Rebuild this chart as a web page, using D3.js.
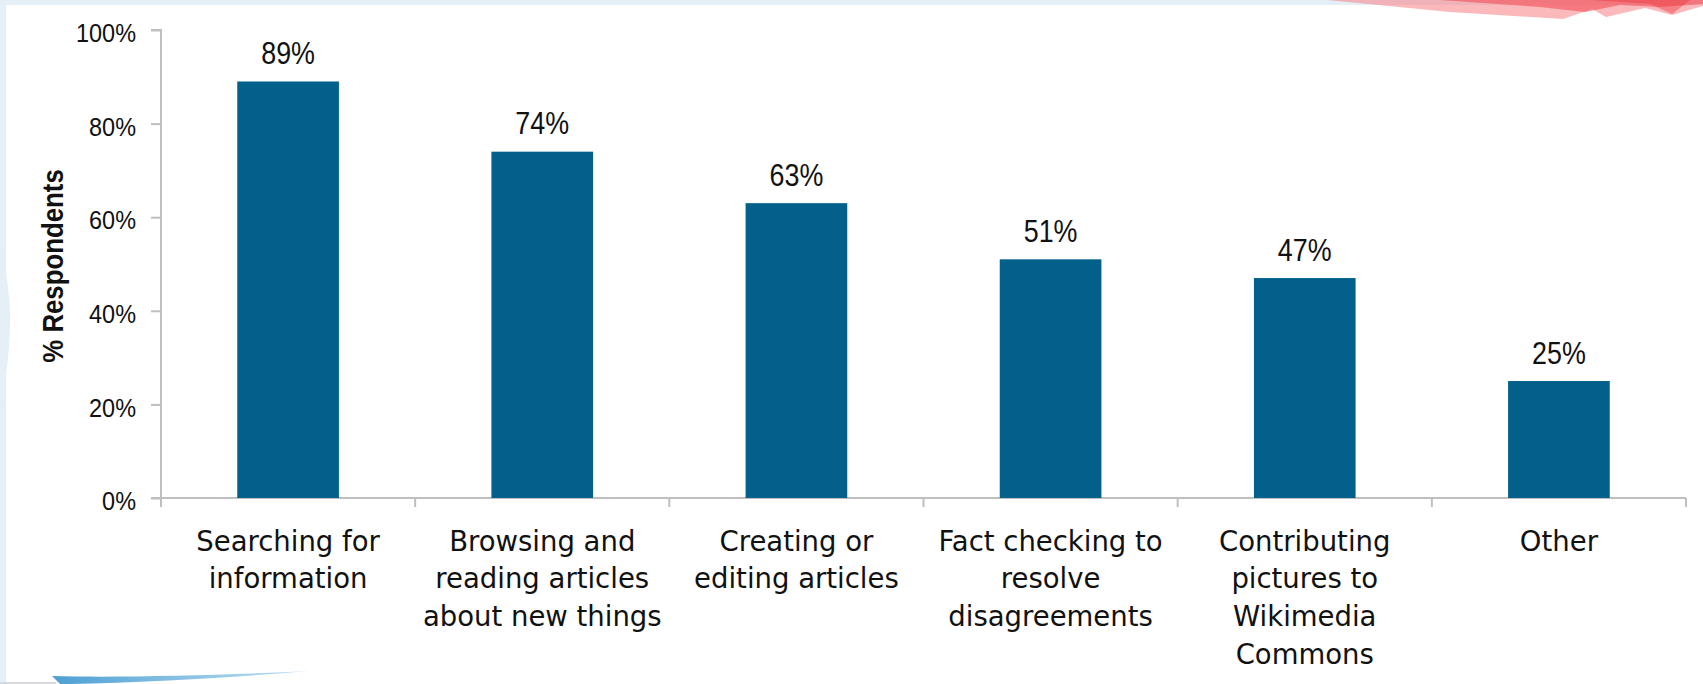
<!DOCTYPE html>
<html>
<head>
<meta charset="utf-8">
<script src="https://cdn.jsdelivr.net/npm/d3@7/dist/d3.min.js"></script>
<style>
  html, body { margin: 0; padding: 0; background: #fff; }
  svg { display: block; }
</style>
</head>
<body>
<svg id="chart" width="1703" height="684"></svg>
<script>
// Survey: what respondents use Wikipedia for
const categories = [
  "Searching for\ninformation",
  "Browsing and\nreading articles\nabout new things",
  "Creating or\nediting articles",
  "Fact checking to\nresolve\ndisagreements",
  "Contributing\npictures to\nWikimedia\nCommons",
  "Other"
];
const values = [89, 74, 63, 51, 47, 25];
const yTicks = [0, 20, 40, 60, 80, 100];
const yTitle = "% Respondents";

const W = 1703, H = 684;
const svg = d3.select("#chart");

// slide decoration: light frame, left bulge, swooshes
const deco = svg.append("g");
deco.append("rect").attr("x", 0).attr("y", 0).attr("width", W).attr("height", 5).attr("fill", "#e4eff8");
deco.append("rect").attr("x", 0).attr("y", 0).attr("width", 6).attr("height", H).attr("fill", "#e4eff8");
deco.append("path")
  .attr("d", "M0,240 C7,270 10,300 10,320 C10,345 7,375 0,410 Z")
  .attr("fill", "#e4eff8");

const defs = svg.append("defs");
const gBlue = defs.append("linearGradient").attr("id", "swooshBlue").attr("x1", "0%").attr("x2", "100%");
gBlue.append("stop").attr("offset", "0%").attr("stop-color", "#4d9fd3");
gBlue.append("stop").attr("offset", "100%").attr("stop-color", "#c3e2f3");
deco.append("path")
  .attr("d", "M52,676 C120,678 220,675 310,671 C240,677 150,682 70,684 L60,684 Z")
  .attr("fill", "url(#swooshBlue)");
deco.append("rect").attr("x", 0).attr("y", 682).attr("width", 56).attr("height", 2).attr("fill", "#d5d9dd");

const red = deco.append("g");
red.append("path")
  .attr("d", "M1327,0 L1703,0 L1703,6 L1672,15 L1645,8 L1606,17 L1592,9 L1563,19 L1450,12 Z")
  .attr("fill", "#f77f84").attr("opacity", 0.55);
red.append("path")
  .attr("d", "M1440,0 L1703,0 L1703,4 L1660,7 L1620,5 L1585,12 L1540,7 Z")
  .attr("fill", "#f24f55").attr("opacity", 0.6);
red.append("path")
  .attr("d", "M1590,0 L1690,0 L1672,14 L1650,4 Z")
  .attr("fill", "#ee3a41").attr("opacity", 0.45);

// plot area
const x0 = 161, x1 = 1686, y0 = 498, y1 = 30;
const x = d3.scaleBand().domain(categories).range([x0, x1]).paddingInner(0.6).paddingOuter(0.3);
const y = d3.scaleLinear().domain([0, 100]).range([y0, y1]);

const axisColor = "#bfbfbf";
const textColor = "#111";
const numFont = "'Liberation Sans', Arial, sans-serif";
const catFont = "'DejaVu Sans', sans-serif";

// y axis
const yAxis = svg.append("g")
  .attr("transform", `translate(${x0},0)`)
  .call(d3.axisLeft(y).tickValues(yTicks).tickFormat(d => d + "%").tickSize(10).tickPadding(0));
yAxis.selectAll("path, line").attr("stroke", axisColor).attr("stroke-width", 2);
yAxis.select(".domain").attr("d", `M-10,${y1}H0V${y0}H-10`);
yAxis.selectAll(".tick text")
  .attr("x", null)
  .attr("transform", "translate(-25,0) scale(0.92,1)")
  .attr("font-family", numFont).attr("font-size", 25.5).attr("fill", textColor)
  .attr("dy", "0.46em");

// x axis: baseline with ticks at category boundaries
const gap = (x.step() - x.bandwidth()) / 2;
const bounds = categories.map(c => x(c) - gap).concat([x1]);
const xAxis = svg.append("g");
xAxis.append("line")
  .attr("x1", x0).attr("x2", x1).attr("y1", y0).attr("y2", y0)
  .attr("stroke", axisColor).attr("stroke-width", 2);
xAxis.selectAll("line.tick").data(bounds).join("line")
  .attr("class", "tick")
  .attr("x1", d => d).attr("x2", d => d).attr("y1", y0).attr("y2", y0 + 9)
  .attr("stroke", axisColor).attr("stroke-width", 2);

// bars
svg.append("g").selectAll("rect").data(values).join("rect")
  .attr("x", (d, i) => x(categories[i]))
  .attr("y", d => y(d))
  .attr("width", x.bandwidth())
  .attr("height", d => y0 - y(d))
  .attr("fill", "#02608b");

// value labels
svg.append("g").selectAll("text").data(values).join("text")
  .attr("transform", (d, i) =>
    `translate(${x(categories[i]) + x.bandwidth() / 2},${y(d) - 17.5}) scale(0.84,1)`)
  .attr("text-anchor", "middle")
  .attr("font-family", numFont).attr("font-size", 32).attr("fill", textColor)
  .text(d => d + "%");

// category labels
const cat = svg.append("g").selectAll("text").data(categories).join("text")
  .attr("x", d => x(d) + x.bandwidth() / 2)
  .attr("y", y0 + 52.5)
  .attr("text-anchor", "middle")
  .attr("font-family", catFont).attr("font-size", 27.5).attr("fill", textColor);
cat.selectAll("tspan").data(d => d.split("\n")).join("tspan")
  .attr("x", function() { return this.parentNode.getAttribute("x"); })
  .attr("dy", (d, i) => i === 0 ? 0 : 37.7)
  .text(d => d);

// y axis title
svg.append("text")
  .attr("transform", "translate(63,266) rotate(-90) scale(0.86,1)")
  .attr("text-anchor", "middle")
  .attr("font-family", numFont).attr("font-weight", "bold").attr("font-size", 30)
  .attr("fill", textColor)
  .text(yTitle);
</script>
</body>
</html>
